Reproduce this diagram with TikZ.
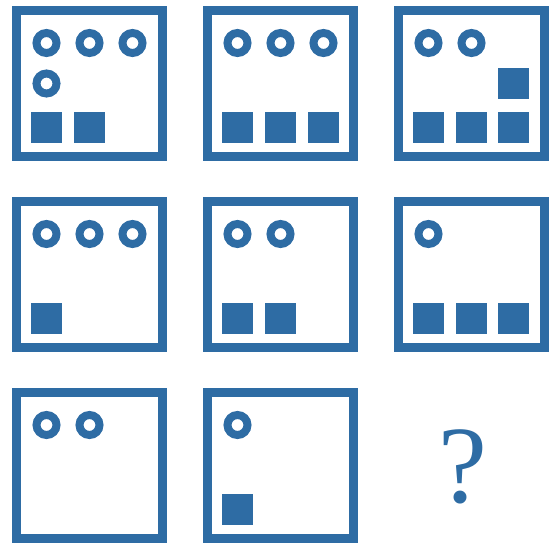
\documentclass[tikz,border=0pt]{standalone}
\usepackage{fontspec}
\newfontfamily\qfont{Liberation Serif}
\usetikzlibrary{positioning}
\definecolor{panelblue}{RGB}{46,108,164}
\tikzset{
  panel/.style ={draw=panelblue, line width=9pt, minimum size=146pt,
                 inner sep=0pt},
  ring/.style  ={draw=panelblue, circle, line width=8pt, minimum size=20pt,
                 inner sep=0pt},
  blk/.style   ={fill=panelblue, minimum size=31pt, inner sep=0pt},
  qmark/.style ={text=panelblue, inner sep=0pt,
                 font=\qfont\fontsize{110}{110}\selectfont},
}

\begin{document}
\begin{tikzpicture}[x=1pt, y=1pt]
\useasboundingbox (0,0) rectangle (554,544);
% the eight panels
\node[panel] (p1) at (89.5,460.5) {};
\node[panel] (p2) at (280.5,460.5) {};
\node[panel] (p3) at (471.5,460.5) {};
\node[panel] (p4) at (89.5,269.5) {};
\node[panel] (p5) at (280.5,269.5) {};
\node[panel] (p6) at (471.5,269.5) {};
\node[panel] (p7) at (89.5,78.5) {};
\node[panel] (p8) at (280.5,78.5) {};
% panel 1
\node[ring] (p1o1) at ([shift={(-43,40.5)}]p1) {};
\node[ring] (p1o2) at ([shift={(0,40.5)}]p1) {};
\node[ring] (p1o3) at ([shift={(43,40.5)}]p1) {};
\node[ring] (p1o4) at ([shift={(-43,0)}]p1) {};
\node[blk] (p1s1) at ([shift={(-43,-44)}]p1) {};
\node[blk] (p1s2) at ([shift={(0,-44)}]p1) {};
% panel 2
\node[ring] (p2o1) at ([shift={(-43,40.5)}]p2) {};
\node[ring] (p2o2) at ([shift={(0,40.5)}]p2) {};
\node[ring] (p2o3) at ([shift={(43,40.5)}]p2) {};
\node[blk] (p2s1) at ([shift={(-43,-44)}]p2) {};
\node[blk] (p2s2) at ([shift={(0,-44)}]p2) {};
\node[blk] (p2s3) at ([shift={(43,-44)}]p2) {};
% panel 3
\node[ring] (p3o1) at ([shift={(-43,40.5)}]p3) {};
\node[ring] (p3o2) at ([shift={(0,40.5)}]p3) {};
\node[blk] (p3s0) at ([shift={(42,0)}]p3) {};
\node[blk] (p3s1) at ([shift={(-43,-44)}]p3) {};
\node[blk] (p3s2) at ([shift={(0,-44)}]p3) {};
\node[blk] (p3s3) at ([shift={(42,-44)}]p3) {};
% panel 4
\node[ring] (p4o1) at ([shift={(-43,40.5)}]p4) {};
\node[ring] (p4o2) at ([shift={(0,40.5)}]p4) {};
\node[ring] (p4o3) at ([shift={(43,40.5)}]p4) {};
\node[blk] (p4s1) at ([shift={(-43,-44)}]p4) {};
% panel 5
\node[ring] (p5o1) at ([shift={(-43,40.5)}]p5) {};
\node[ring] (p5o2) at ([shift={(0,40.5)}]p5) {};
\node[blk] (p5s1) at ([shift={(-43,-44)}]p5) {};
\node[blk] (p5s2) at ([shift={(0,-44)}]p5) {};
% panel 6
\node[ring] (p6o1) at ([shift={(-43,40.5)}]p6) {};
\node[blk] (p6s1) at ([shift={(-43,-44)}]p6) {};
\node[blk] (p6s2) at ([shift={(0,-44)}]p6) {};
\node[blk] (p6s3) at ([shift={(42,-44)}]p6) {};
% panel 7
\node[ring] (p7o1) at ([shift={(-43,40.5)}]p7) {};
\node[ring] (p7o2) at ([shift={(0,40.5)}]p7) {};
% panel 8
\node[ring] (p8o1) at ([shift={(-43,40.5)}]p8) {};
\node[blk] (p8s1) at ([shift={(-43,-44)}]p8) {};
% the missing one
\node[qmark] (q) at (463,77) {?};
\end{tikzpicture}
\end{document}
